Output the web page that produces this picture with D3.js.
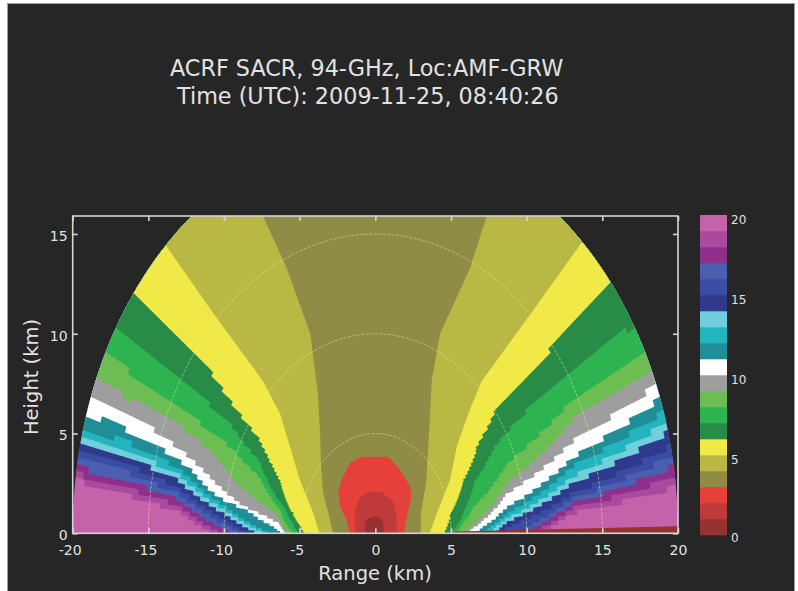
<!DOCTYPE html>
<html>
<head>
<meta charset="utf-8">
<script src="https://cdn.jsdelivr.net/npm/d3@7"></script>
<style>
  html, body { margin: 0; padding: 0; background: #ffffff; }
  svg { display: block; }
  text { font-family: "DejaVu Sans", Verdana, sans-serif; fill: #e2e2e2; }
</style>
</head>
<body>
<svg id="chart" width="798" height="591"></svg>
<script>
// ---------------- data ----------------
const titleLines = ["ACRF SACR, 94-GHz, Loc:AMF-GRW", "Time (UTC): 2009-11-25, 08:40:26"];
const xTicks = [-20, -15, -10, -5, 0, 5, 10, 15, 20];
const yTicks = [0, 5, 10, 15];
const colorTicks = [0, 5, 10, 15, 20];
const rangeRings = [5, 10, 15];          // km
const maxRange = 20;                     // km, last range gate
const beamWidth = 1.0;                   // degrees between scanned rays
const gateSpacing = 0.1;                 // km between range gates

// colour of each 1-unit band, from 0-1 up to 19-20
const bandColors = [
  "#963232", "#bf3a3a", "#e5403a", "#8f8c45", "#bab844",
  "#f0e948", "#288c48", "#2db34f", "#6cbd52", "#9e9e9e",
  "#ffffff", "#1f8e96", "#22b5bd", "#70cfdb", "#2f3a8c",
  "#3a4ca4", "#4b5fb0", "#8e2f8c", "#a94a9e", "#c462aa"
];

// contour levels bounding the zenith cone (value < level on the zenith side)
const coneLevels = [4, 5, 6, 7, 8, 9, 10, 11, 12, 13, 14, 15, 16, 17, 18, 19];
// the two innermost cone edges vary slowly from ray to ray and are drawn smooth
const smoothLevels = [4, 5];

// west side of each contour, [range x km, height km], from the ground out to 20 km
const westContours = [
  [[-2.8,0],[-3.1,1.0],[-3.45,2.0],[-3.6,3.5],[-3.65,5.0],[-3.8,7.0],[-4.3,10],[-5.86,13.3],[-7.43,15.9],[-8.45,18.1]],
  [[-3.7,0],[-4.1,1.0],[-5.0,2.7],[-5.65,4.35],[-6.3,6.0],[-7.4,7.6],[-10.5,10.8],[-13.85,14.43]],
  [[-4.6,0],[-5.4,1.0],[-6.3,2.67],[-6.87,3.53],[-7.62,4.7],[-10.48,7.69],[-11.6,8.86],[-16.06,11.92]],
  [[-5.0,0],[-5.9,1.2],[-7.62,3.6],[-9.5,5.4],[-11.6,6.95],[-17.14,10.3]],
  [[-5.4,0],[-6.3,1.2],[-7.62,2.8],[-9.5,4.3],[-11.6,5.55],[-13.1,6.5],[-14.5,7.2],[-17.88,8.95]],
  [[-5.7,0],[-6.52,1.0],[-8.06,1.84],[-9.16,2.51],[-9.82,3.2],[-10.7,4.0],[-11.8,4.75],[-12.9,5.4],[-14.0,6.0],[-16.2,6.69],[-18.44,7.75]],
  [[-5.9,0],[-6.3,0.5],[-7.18,0.83],[-8.94,1.5],[-10.7,2.67],[-12.03,3.68],[-13.79,4.77],[-16.2,6.02],[-18.8,6.84]],
  [[-6.2,0],[-6.52,0.25],[-8.5,1.17],[-10.26,1.76],[-11.14,2.34],[-12.25,3.3],[-14.0,4.18],[-16.65,5.27],[-19.08,6.0]],
  [[-6.9,0],[-9.8,1.3],[-13,3.3],[-16.3,4.55],[-19.29,5.27]],
  [[-7.3,0],[-9.8,1.1],[-13,2.95],[-16.3,4.2],[-19.38,4.93]],
  [[-7.8,0],[-9.8,0.9],[-13,2.65],[-16.3,3.85],[-19.47,4.58]],
  [[-8.3,0],[-9.8,0.65],[-13,2.3],[-16.3,3.45],[-19.56,4.18]],
  [[-8.9,0],[-9.8,0.4],[-13,2.0],[-16.3,3.05],[-19.65,3.75]],
  [[-9.5,0],[-9.8,0.15],[-13,1.7],[-16.3,2.65],[-19.72,3.33]],
  [[-10.1,0],[-13,1.4],[-16.3,2.25],[-19.77,3.0]],
  [[-10.7,0],[-13,1.1],[-16.3,1.9],[-19.82,2.67]]
];

// east side of the same contours
const eastContours = [
  [[3.0,0],[3.0,1.0],[3.35,2.5],[3.5,4.35],[3.62,6.0],[3.73,7.7],[4.28,10],[6.26,13.3],[7.36,15.9],[8.3,18.18]],
  [[3.6,0],[4.06,1.0],[4.94,2.67],[5.38,4.35],[6.15,6.0],[7.0,7.6],[10.22,10.95],[13.66,14.6]],
  [[4.5,0],[4.94,1.0],[5.82,2.67],[6.7,4.35],[7.8,6.0],[8.68,6.69],[11.55,9.2],[15.63,12.48]],
  [[4.95,0],[6.5,2.6],[7.9,4.4],[9.5,5.8],[13,8.19],[17.07,10.42]],
  [[5.3,0],[6.4,1.3],[8.68,3.51],[13,6.69],[17.79,9.14]],
  [[5.6,0],[8.68,2.51],[13,5.68],[18.29,8.1]],
  [[5.9,0],[8.68,2.0],[13,4.6],[18.57,7.43]],
  [[6.4,0],[8.68,1.33],[13,3.8],[18.82,6.77]],
  [[6.9,0],[8.68,1.0],[13,3.34],[19.04,6.11]],
  [[7.3,0],[8.68,0.77],[13,2.84],[19.2,5.57]],
  [[7.8,0],[8.68,0.58],[13,2.5],[19.35,5.07]],
  [[8.3,0],[8.68,0.33],[13,2.0],[19.51,4.4]],
  [[9.0,0],[13,1.75],[19.62,3.88]],
  [[9.6,0],[13,1.5],[19.71,3.37]],
  [[10.2,0],[13,1.25],[19.8,2.85]],
  [[10.8,0],[13,1.0],[19.86,2.34]]
];

// closed contours of the low-value core above the radar
const coreLevels = [3, 2, 1];
const coreContours = [
  [[-1.7,0],[-1.9,0.67],[-2.34,1.33],[-2.45,2.09],[-2.22,2.67],[-1.67,3.53],[-0.88,3.84],[0.86,3.84],[1.63,3.18],[2.29,2.34],[2.41,1.92],[2.18,1.17],[2.0,0.45],[1.9,0]],
  [[-1.34,0],[-1.34,1.17],[-1.01,1.84],[-0.24,2.09],[0.42,2.04],[1.19,1.59],[1.41,0.83],[1.41,0]],
  [[-0.68,0],[-0.68,0.52],[-0.46,0.75],[0,0.87],[0.42,0.7],[0.53,0.42],[0.53,0]]
];

// low-elevation ground return on the east side
const clutterRanges = [5.2, 20];   // km
const clutterTopElevation = 1.0;   // degrees
const clutterValue = 0.5;

// ---------------- layout ----------------
const svg = d3.select("#chart");
const plot = { left: 72.7, right: 678, top: 216, bottom: 533.3 };

const x = d3.scaleLinear().domain([-20, 20]).range([plot.left, plot.right]);
const y = d3.scaleLinear().domain([0, 15.9]).range([plot.bottom, plot.top]);
const color = d3.scaleQuantize().domain([0, 20]).range(bandColors);

const deg = Math.PI / 180;
const polar = (r, a) => [r * Math.cos(a * deg), r * Math.sin(a * deg)];
const elevation = p => Math.atan2(p[1], p[0]) / deg;
const line = d3.line().x(d => x(d[0])).y(d => y(d[1]));
const closed = pts => line(pts) + "Z";

// Trace a contour the way the scan resolves it: at each range gate the
// crossing is snapped to the nearest ray, giving the stair-stepped edges.
function traceOnRays(contour) {
  const pol = contour.map(p => [Math.hypot(p[0], p[1]), elevation(p)]);
  const rStart = pol[0][0], rEnd = pol[pol.length - 1][0];
  const out = [];
  let prev = null;
  const gates = d3.range(rStart, rEnd, gateSpacing).concat([rEnd]);
  gates.forEach(r => {
    let a = pol[pol.length - 1][1];
    for (let j = 0; j < pol.length - 1; j++) {
      const r0 = pol[j][0], r1 = pol[j + 1][0];
      if (r >= r0 && r <= r1) {
        const t = r1 > r0 ? (r - r0) / (r1 - r0) : 0;
        a = pol[j][1] + t * (pol[j + 1][1] - pol[j][1]);
        break;
      }
    }
    a = Math.round(a / beamWidth) * beamWidth;
    if (prev !== null && a !== prev) out.push(polar(r, prev));
    out.push(polar(r, a));
    prev = a;
  });
  return out;
}

// frame background
svg.append("rect").attr("x", 0).attr("y", 0).attr("width", 798).attr("height", 591).attr("fill", "#ffffff");
svg.append("rect")
  .attr("x", 7.5).attr("y", 3.5).attr("width", 787).attr("height", 600)
  .attr("fill", "#262626").attr("stroke", "#9c9c9c").attr("stroke-width", 1);

// title
svg.append("text").attr("x", 170).attr("y", 76).attr("font-size", 22.3).text(titleLines[0]);
svg.append("text").attr("x", 177).attr("y", 104).attr("font-size", 22.3).text(titleLines[1]);

// clip to axes box
svg.append("defs").append("clipPath").attr("id", "plotClip")
  .append("rect")
  .attr("x", plot.left).attr("y", plot.top)
  .attr("width", plot.right - plot.left).attr("height", plot.bottom - plot.top);

const field = svg.append("g").attr("clip-path", "url(#plotClip)");

// full half-disc in the highest band
const halfDisc = d3.range(180, -0.001, -0.5).map(a => polar(maxRange, a));
field.append("path").attr("d", closed(halfDisc)).attr("fill", color(19.5));

// nested zenith cones, outermost first
coneLevels.slice().reverse().forEach(level => {
  const i = coneLevels.indexOf(level);
  const trace = smoothLevels.includes(level) ? (c => c) : traceOnRays;
  const west = trace(westContours[i]);
  const east = trace(eastContours[i]);
  const aW = elevation(west[west.length - 1]);
  const aE = elevation(east[east.length - 1]);
  const arc = d3.range(aW, aE, -0.5).map(a => polar(maxRange, a));
  const pts = [...west, ...arc, ...east.slice().reverse()];
  field.append("path").attr("d", closed(pts)).attr("fill", color(level - 0.5));
});

// low-value core
coreLevels.forEach((level, i) => {
  field.append("path").attr("d", closed(coreContours[i])).attr("fill", color(level - 0.5));
});

// ground clutter strip
const clutter = [
  polar(clutterRanges[0], 0), polar(clutterRanges[1], 0),
  polar(clutterRanges[1], clutterTopElevation), polar(clutterRanges[0], clutterTopElevation)
];
field.append("path").attr("d", closed(clutter)).attr("fill", color(clutterValue));

// range rings
rangeRings.forEach(r => {
  const ring = d3.range(0, 180.001, 1).map(a => polar(r, a));
  field.append("path").attr("d", line(ring))
    .attr("fill", "none").attr("stroke", "#f2eca8")
    .attr("stroke-opacity", 0.55).attr("stroke-width", 0.9)
    .attr("stroke-dasharray", "3,1.5");
});

// axes box and ticks
const axisColor = "#d4d4d4";
svg.append("rect")
  .attr("x", plot.left).attr("y", plot.top)
  .attr("width", plot.right - plot.left).attr("height", plot.bottom - plot.top)
  .attr("fill", "none").attr("stroke", axisColor).attr("stroke-width", 1.6);

function styleAxis(g) {
  g.select(".domain").remove();
  g.selectAll(".tick line").attr("stroke", axisColor).attr("stroke-width", 1.6);
  g.selectAll(".tick text").attr("fill", "#dcdcdc").attr("font-size", 14)
    .attr("font-family", "DejaVu Sans, Verdana, sans-serif");
}
const plain = d => String(d);

svg.append("g").attr("transform", `translate(0,${plot.bottom})`)
  .call(d3.axisBottom(x).tickValues(xTicks).tickSize(-5).tickPadding(12).tickFormat(plain))
  .call(styleAxis)
  .call(g => g.selectAll(".tick text").attr("dx", d => d < 0 ? -3 : 0));

svg.append("g").attr("transform", `translate(0,${plot.top})`)
  .call(d3.axisTop(x).tickValues(xTicks).tickSize(-5).tickFormat(""))
  .call(styleAxis);

svg.append("g").attr("transform", `translate(${plot.left},0)`)
  .call(d3.axisLeft(y).tickValues(yTicks).tickSize(-5).tickPadding(5).tickFormat(plain))
  .call(styleAxis)
  .call(g => g.selectAll(".tick text").attr("dy", "0.45em"));

svg.append("g").attr("transform", `translate(${plot.right},0)`)
  .call(d3.axisRight(y).tickValues(yTicks).tickSize(-5).tickFormat(""))
  .call(styleAxis);

// axis titles
svg.append("text").attr("x", 375).attr("y", 580).attr("text-anchor", "middle")
  .attr("font-size", 19.5).text("Range (km)");
svg.append("text").attr("transform", "translate(38,377) rotate(-90)")
  .attr("text-anchor", "middle").attr("font-size", 19.5).text("Height (km)");

// colour bar
const cb = { left: 700, width: 27, top: 215, bottom: 535 };
const cbY = d3.scaleLinear().domain([0, 20]).range([cb.bottom, cb.top]);
svg.append("g").selectAll("rect")
  .data(d3.range(0, 20))
  .join("rect")
  .attr("x", cb.left).attr("width", cb.width)
  .attr("y", d => cbY(d + 1)).attr("height", d => cbY(d) - cbY(d + 1) + 0.3)
  .attr("fill", d => color(d + 0.5));

svg.append("g").selectAll("text")
  .data(colorTicks)
  .join("text")
  .attr("x", cb.left + cb.width + 4)
  .attr("y", d => Math.min(cbY(d) + 9, cb.bottom + 7))
  .attr("font-size", 12).attr("fill", "#dcdcdc")
  .text(d => d);
</script>
</body>
</html>
